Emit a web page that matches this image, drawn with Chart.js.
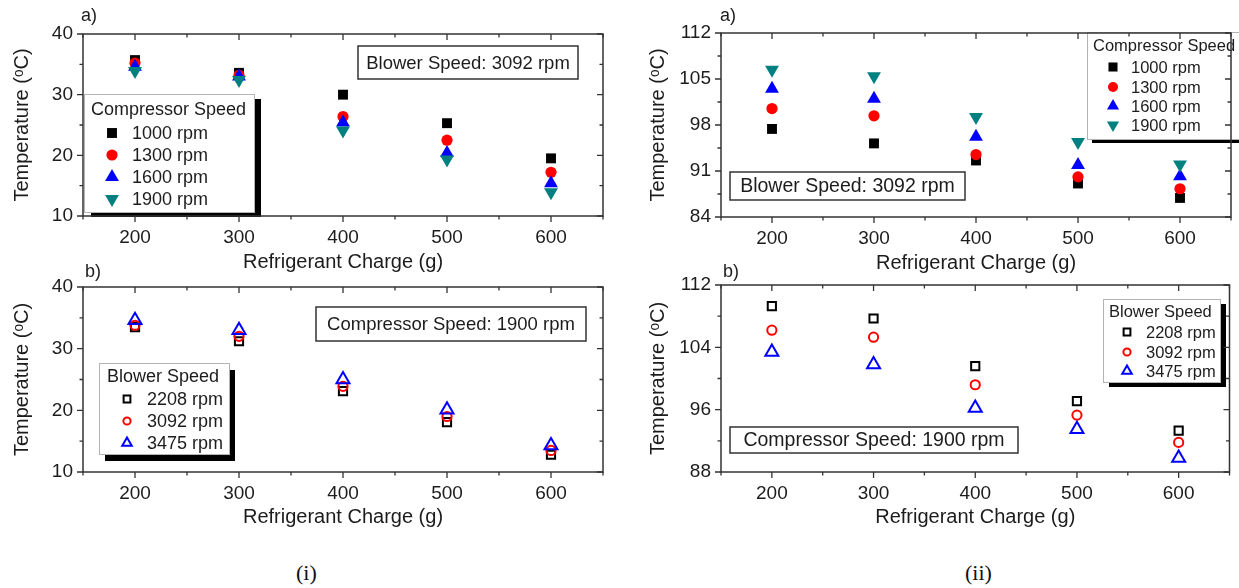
<!DOCTYPE html>
<html>
<head>
<meta charset="utf-8">
<script src="https://cdn.jsdelivr.net/npm/chart.js@4.4.0/dist/chart.umd.min.js"></script>
<style>
  body { margin: 0; background: #fff; width: 1239px; height: 588px; position: relative; overflow: hidden; }
  canvas { position: absolute; }
  .cap { position: absolute; top: 561px; font-family: "Liberation Serif", "Times New Roman", serif; font-size: 22px; color: #111; line-height: 24px; }
</style>
</head>
<body>
<canvas id="ia" width="620" height="290" style="left:0;top:0"></canvas>
<canvas id="ib" width="620" height="310" style="left:0;top:250px"></canvas>
<canvas id="iia" width="619" height="290" style="left:620px;top:0"></canvas>
<canvas id="iib" width="619" height="310" style="left:620px;top:250px"></canvas>
<div class="cap" style="left:296px">(i)</div>
<div class="cap" style="left:965px">(ii)</div>

<script>
// refrigerant charge (g) on x, temperature (oC) on y
var charge = [200, 300, 400, 500, 600];

// (i) a) - compressor speed, blower 3092 rpm
var comp1000_i = [35.7, 33.6, 30.0, 25.3, 19.5];
var comp1300_i = [35.2, 33.2, 26.4, 22.5, 17.2];
var comp1600_i = [34.6, 33.0, 25.4, 20.4, 15.4];
var comp1900_i = [33.9, 32.4, 24.1, 19.3, 13.9];
// (i) b) - blower speed, compressor 1900 rpm
var blow2208_i = [33.5, 31.2, 23.1, 18.1, 12.8];
var blow3092_i = [33.8, 32.0, 23.9, 19.0, 13.5];
var blow3475_i = [34.6, 33.0, 25.0, 20.1, 14.3];

// (ii) a)
var comp1000_ii = [97.4, 95.2, 92.6, 89.1, 86.9];
var comp1300_ii = [100.5, 99.4, 93.5, 90.1, 88.3];
var comp1600_ii = [103.5, 102.0, 96.2, 91.9, 90.2];
var comp1900_ii = [106.4, 105.4, 99.2, 95.4, 92.0];
// (ii) b)
var blow2208_ii = [109.3, 107.7, 101.6, 97.1, 93.3];
var blow3092_ii = [106.2, 105.3, 99.2, 95.3, 91.8];
var blow3475_ii = [103.4, 101.8, 96.2, 93.5, 89.8];

var compLabels = ['1000 rpm', '1300 rpm', '1600 rpm', '1900 rpm'];
var blowLabels = ['2208 rpm', '3092 rpm', '3475 rpm'];
var yTicks_i = [10, 20, 30, 40];
var yTicks_iia = [84, 91, 98, 105, 112];
var yTicks_iib = [88, 96, 104, 112];

var FONT = '"Liberation Sans", Arial, sans-serif';
var INK = '#1c1c1c';

var compStyles = [
  {shape: 'rect', color: '#000000', r: 7},
  {shape: 'circle', color: '#ff0000', r: 5.6},
  {shape: 'triangle', color: '#0000ff', r: 8},
  {shape: 'triangle', rot: 180, color: '#008080', r: 8}
];
var blowStyles = [
  {shape: 'rect', color: '#000000', r: 5.8},
  {shape: 'circle', color: '#ff0000', r: 4.6},
  {shape: 'triangle', color: '#0000ff', r: 7.5}
];

function drawMark(ctx, st, x, y, r, open) {
  ctx.beginPath();
  if (st.shape === 'rect') {
    var s = r * Math.SQRT1_2;
    ctx.rect(x - s, y - s, 2 * s, 2 * s);
  } else if (st.shape === 'circle') {
    ctx.arc(x, y, r, 0, Math.PI * 2);
  } else {
    var d = st.rot ? -1 : 1;
    ctx.moveTo(x, y - d * r);
    ctx.lineTo(x + r * 0.866, y + d * r / 2);
    ctx.lineTo(x - r * 0.866, y + d * r / 2);
    ctx.closePath();
  }
  if (open) {
    ctx.lineWidth = 2;
    ctx.strokeStyle = st.color;
    ctx.stroke();
  } else {
    ctx.fillStyle = st.color;
    ctx.fill();
  }
}

function halfSteps(major, min, max) {
  var step = major[1] - major[0], out = [];
  for (var v = major[0] - step / 2; v <= max + 1e-9; v += step) {
    if (v >= min - 1e-9) out.push(v);
  }
  return out;
}

// frame with Origin-style ticks, text boxes and legends
var panelDecor = {
  id: 'panelDecor',
  afterDatasetsDraw: function (chart, args, o) {
    var ctx = chart.ctx, a = chart.chartArea;
    var xs = chart.scales.x, ys = chart.scales.y;
    ctx.save();

    // note box
    ctx.fillStyle = '#fff';
    ctx.fillRect(o.note.box[0], o.note.box[1], o.note.box[2] - o.note.box[0], o.note.box[3] - o.note.box[1]);
    ctx.strokeStyle = '#333';
    ctx.lineWidth = 1.5;
    ctx.strokeRect(o.note.box[0], o.note.box[1], o.note.box[2] - o.note.box[0], o.note.box[3] - o.note.box[1]);
    ctx.fillStyle = INK;
    ctx.font = o.note.size + 'px ' + FONT;
    ctx.textAlign = 'center';
    ctx.textBaseline = 'middle';
    ctx.fillText(o.note.text, (o.note.box[0] + o.note.box[2]) / 2, (o.note.box[1] + o.note.box[3]) / 2 + 1);

    // legend with drop shadow
    var L = o.legend, b = L.box;
    ctx.fillStyle = '#000';
    ctx.fillRect(b[0] + L.dx, b[1] + L.dy, b[2] - b[0], b[3] - b[1]);
    ctx.fillStyle = '#fff';
    ctx.fillRect(b[0], b[1], b[2] - b[0], b[3] - b[1]);
    ctx.strokeStyle = '#b4b4b4';
    ctx.lineWidth = 1;
    ctx.strokeRect(b[0] + 0.5, b[1] + 0.5, b[2] - b[0], b[3] - b[1]);
    ctx.fillStyle = INK;
    ctx.font = L.size + 'px ' + FONT;
    ctx.textAlign = 'left';
    ctx.fillText(L.title, L.titleX, L.titleY);
    L.rows.forEach(function (ry, i) {
      drawMark(ctx, L.styles[i], L.markX, ry, L.markR[i], L.open);
      ctx.fillStyle = INK;
      ctx.fillText(L.labels[i], L.textX, ry + 1);
    });

    // frame
    ctx.strokeStyle = '#333';
    ctx.lineWidth = 1.5;
    ctx.strokeRect(a.left, a.top, a.right - a.left, a.bottom - a.top);
    ctx.lineWidth = 1.3;
    ctx.beginPath();
    function xt(v, len) {
      var px = xs.getPixelForValue(v);
      ctx.moveTo(px, a.bottom); ctx.lineTo(px, a.bottom + len);
      ctx.moveTo(px, a.top); ctx.lineTo(px, a.top + len);
    }
    function yt(v, len) {
      var py = ys.getPixelForValue(v);
      ctx.moveTo(a.left - len, py); ctx.lineTo(a.left, py);
      ctx.moveTo(a.right - len, py); ctx.lineTo(a.right, py);
    }
    charge.forEach(function (v) { xt(v, 6); });
    halfSteps(charge, xs.min, xs.max).forEach(function (v) { xt(v, 3.5); });
    o.yMajor.forEach(function (v) { yt(v, 6); });
    halfSteps(o.yMajor, ys.min, ys.max).forEach(function (v) { yt(v, 3.5); });
    ctx.stroke();

    // panel letter
    ctx.fillStyle = INK;
    ctx.font = '18px ' + FONT;
    ctx.textAlign = 'center';
    ctx.fillText(o.letter[0], o.letter[1], o.letter[2]);
    ctx.restore();
  }
};

function makePanel(id, p) {
  var datasets = p.series.map(function (s, i) {
    var st = p.styles[i];
    return {
      label: p.labels[i],
      data: charge.map(function (c, j) { return {x: c, y: s[j]}; }),
      pointStyle: st.shape,
      rotation: st.rot || 0,
      pointRadius: st.r,
      pointHoverRadius: st.r,
      backgroundColor: p.open ? 'rgba(255,255,255,0)' : st.color,
      borderColor: st.color,
      borderWidth: p.open ? 2 : 0,
      order: p.series.length - i
    };
  });
  p.decor.legend.styles = p.styles;
  p.decor.legend.labels = p.labels;
  p.decor.legend.open = p.open;
  p.decor.yMajor = p.yTicks;

  return new Chart(document.getElementById(id), {
    type: 'scatter',
    data: {datasets: datasets},
    options: {
      responsive: false,
      animation: false,
      events: [],
      layout: {padding: p.pad},
      plugins: {legend: {display: false}, tooltip: {enabled: false}, panelDecor: p.decor},
      scales: {
        x: {
          type: 'linear', min: 150, max: 650,
          afterBuildTicks: function (s) { s.ticks = charge.map(function (v) { return {value: v}; }); },
          afterFit: function (s) { s.height = p.xh; },
          grid: {display: false, drawTicks: false}, border: {display: false},
          ticks: {padding: 10, color: INK, font: {family: FONT, size: 19}},
          title: {display: true, text: 'Refrigerant Charge (g)', color: INK,
                  font: {family: FONT, size: 20}, padding: {top: 0, bottom: p.xtp}}
        },
        y: {
          type: 'linear', min: p.yTicks[0], max: p.yTicks[p.yTicks.length - 1],
          afterBuildTicks: function (s) { s.ticks = p.yTicks.map(function (v) { return {value: v}; }); },
          afterFit: function (s) { s.width = p.yw; },
          grid: {display: false, drawTicks: false}, border: {display: false},
          ticks: {padding: 10, color: INK, font: {family: FONT, size: 19}},
          title: {display: true, text: 'Temperature (ᵒC)', color: INK,
                  font: {family: FONT, size: 20}, padding: {top: p.ytp, bottom: 0}}
        }
      }
    },
    plugins: [panelDecor]
  });
}

makePanel('ia', {
  series: [comp1000_i, comp1300_i, comp1600_i, comp1900_i],
  labels: compLabels, styles: compStyles, open: false, yTicks: yTicks_i,
  pad: {left: 0, right: 17, top: 34, bottom: 0}, yw: 83, xh: 74, xtp: 16, ytp: 10,
  decor: {
    letter: ['a)', 89, 16],
    note: {text: 'Blower Speed: 3092 rpm', box: [358, 46, 578, 79], size: 18.5},
    legend: {box: [84, 94, 254, 212], dx: 7, dy: 5, title: 'Compressor Speed', size: 18,
             titleX: 91, titleY: 110, markX: 112, textX: 132, rows: [133, 155, 177, 199],
             markR: [7, 5.6, 8, 8]}
  }
});

makePanel('ib', {
  series: [blow2208_i, blow3092_i, blow3475_i],
  labels: blowLabels, styles: blowStyles, open: true, yTicks: yTicks_i,
  pad: {left: 0, right: 17, top: 37, bottom: 0}, yw: 83, xh: 88, xtp: 31, ytp: 10,
  decor: {
    letter: ['b)', 93, 22],
    note: {text: 'Compressor Speed: 1900 rpm', box: [316, 57, 586, 91], size: 18.5},
    legend: {box: [99, 113, 229, 204], dx: 6, dy: 7, title: 'Blower Speed', size: 18,
             titleX: 107, titleY: 127, markX: 127, textX: 147, rows: [149, 171, 193],
             markR: [4.8, 3.6, 5.5]}
  }
});

makePanel('iia', {
  series: [comp1000_ii, comp1300_ii, comp1600_ii, comp1900_ii],
  labels: compLabels, styles: compStyles, open: false, yTicks: yTicks_iia,
  pad: {left: 0, right: 2, top: 33, bottom: 0}, yw: 101, xh: 73, xtp: 15, ytp: 26,
  decor: {
    letter: ['a)', 108, 16],
    note: {text: 'Blower Speed: 3092 rpm', box: [110, 172, 345, 200], size: 19.5},
    legend: {box: [467, 32, 630, 139], dx: 5, dy: 4, title: 'Compressor Speed', size: 16.5,
             titleX: 473, titleY: 46, markX: 493, textX: 511, rows: [67, 87, 106, 125],
             markR: [6.4, 5, 7, 7]}
  }
});

makePanel('iib', {
  series: [blow2208_ii, blow3092_ii, blow3475_ii],
  labels: blowLabels, styles: blowStyles, open: true, yTicks: yTicks_iib,
  pad: {left: 0, right: 2, top: 35, bottom: 0}, yw: 101, xh: 88, xtp: 31, ytp: 26,
  decor: {
    letter: ['b)', 111, 22],
    note: {text: 'Compressor Speed: 1900 rpm', box: [110, 177, 398, 203], size: 19.5},
    legend: {box: [483, 49, 600, 132], dx: 6, dy: 5, title: 'Blower Speed', size: 16.5,
             titleX: 489, titleY: 62, markX: 507, textX: 526, rows: [82, 102, 121],
             markR: [4.8, 3.6, 5.5]}
  }
});
</script>
</body>
</html>
